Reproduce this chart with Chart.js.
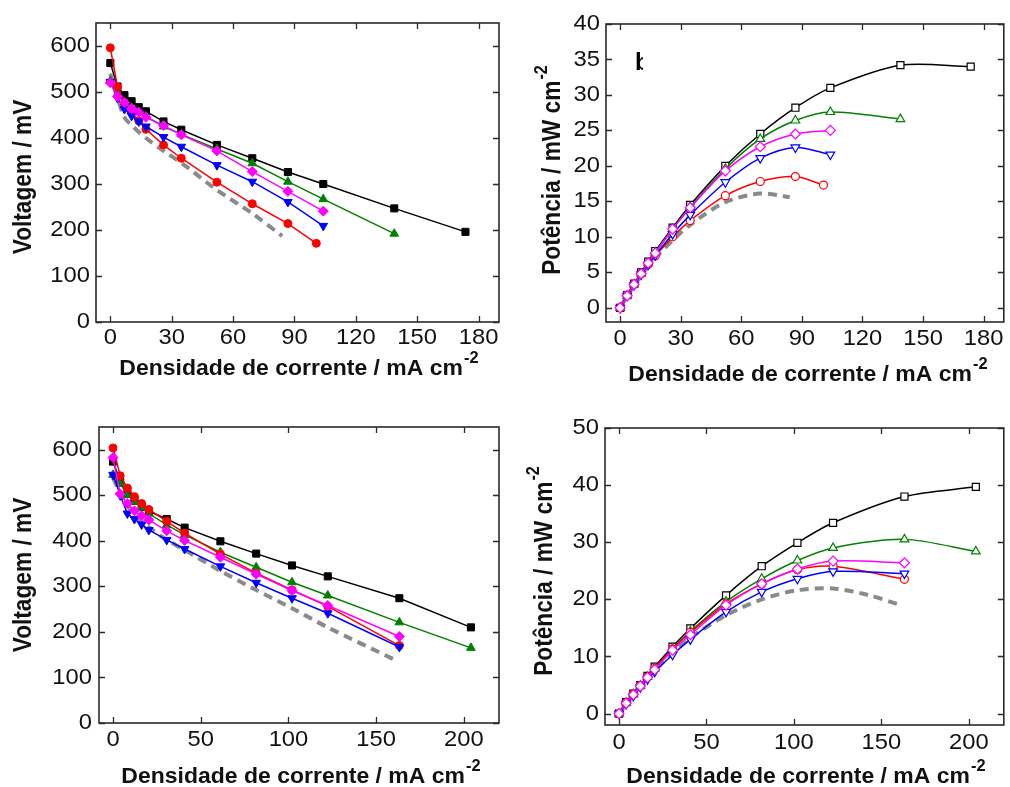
<!DOCTYPE html>
<html><head><meta charset="utf-8">
<script src="https://cdn.jsdelivr.net/npm/chart.js@4/dist/chart.umd.min.js"></script>
<style>
html,body{margin:0;padding:0;background:#fff;}
#wrap{position:relative;width:1010px;height:787px;}
canvas{position:absolute;left:0;top:0;}
</style></head><body>
<div id="wrap">
<canvas id="cA" width="1010" height="787"></canvas>
<canvas id="cB" width="1010" height="787"></canvas>
<canvas id="cC" width="1010" height="787"></canvas>
<canvas id="cD" width="1010" height="787"></canvas>
</div>
<script>
// ---------- tick labels ----------
const xTicksTop = [0, 30, 60, 90, 120, 150, 180];
const xTicksBottom = [0, 50, 100, 150, 200];
const yTicksVoltage = [0, 100, 200, 300, 400, 500, 600];
const yTicksPowerTop = [0, 5, 10, 15, 20, 25, 30, 35, 40];
const yTicksPowerBottom = [0, 10, 20, 30, 40, 50];

// ---------- top row: current density (mA cm-2) ----------
const jTop = [0, 3.5, 6.9, 10.4, 13.9, 17.4, 26.0, 34.7, 52.1, 69.4, 86.8, 104.1, 138.8, 173.6];
const jTopRed = [0, 3.5, 6.9, 10.4, 13.9, 17.4, 26.0, 34.7, 52.1, 69.4, 86.8, 100.7];
const jTopGray = [0, 3.5, 6.9, 10.4, 13.9, 17.4, 26.0, 34.7, 52.1, 69.4, 84.0];

// top-left voltages (mV)
const vTopBlack   = [563, 512, 493, 480, 467, 458, 436, 418, 385, 356, 326, 300, 247, 196];
const vTopGreen   = [524, 496, 478, 466, 456, 447, 425, 408, 376, 345, 305, 267, 192];
const vTopMagenta = [520, 490, 477, 464, 456, 445, 427, 407, 372, 327, 284, 241];
const vTopBlue    = [522, 487, 463, 448, 436, 425, 402, 381, 341, 305, 261, 209];
const vTopRed     = [596, 511, 476, 456, 437, 419, 385, 356, 304, 257, 214, 171];
const vTopGray    = [540, 488, 445, 428, 413, 400, 372, 346, 287, 236, 187];

// top-right powers (mW cm-2)
const pTopBlack   = [0, 1.8, 3.4, 5.0, 6.5, 8.0, 11.3, 14.5, 20.0, 24.5, 28.2, 31.0, 34.2, 34.0];
const pTopGreen   = [0, 1.7, 3.3, 4.8, 6.3, 7.8, 11.1, 14.2, 19.6, 23.8, 26.4, 27.6, 26.6];
const pTopMagenta = [0, 1.7, 3.3, 4.8, 6.3, 7.7, 11.1, 14.1, 19.3, 22.7, 24.5, 25.0];
const pTopBlue    = [0, 1.7, 3.2, 4.7, 6.1, 7.4, 10.4, 13.1, 17.7, 21.1, 22.6, 21.6];
const pTopRed     = [0, 1.8, 3.3, 4.8, 6.1, 7.3, 10.0, 12.3, 15.8, 17.8, 18.5, 17.3];
const pTopGray    = [0, 1.7, 3.1, 4.5, 5.8, 7.0, 9.5, 11.7, 14.9, 16.1, 15.6];

// ---------- bottom row ----------
const jBot = [0, 4.1, 8.2, 12.2, 16.3, 20.4, 30.6, 40.8, 61.2, 81.6, 102.0, 122.4, 163.2, 204.0];
const jBotGray = [0, 4.1, 8.2, 12.2, 16.3, 20.4, 30.6, 40.8, 61.2, 81.6, 102.0, 122.4, 161.6];
const jBotGrayP = [0, 8.2, 20.4, 40.8, 61.2, 81.6, 102.0, 122.4, 142.0, 160.0];

const vBotBlack   = [574, 530, 503, 488, 475, 465, 448, 429, 399, 372, 346, 322, 274, 210];
const vBotGreen   = [545, 525, 501, 486, 474, 460, 435, 413, 375, 342, 309, 280, 221, 165];
const vBotRed     = [604, 543, 516, 497, 482, 469, 443, 417, 371, 329, 292, 256, 170];
const vBotMagenta = [583, 503, 482, 466, 455, 446, 422, 401, 364, 327, 291, 258, 190];
const vBotBlue    = [545, 500, 460, 448, 436, 424, 402, 382, 344, 308, 274, 241, 167];
const vBotGray    = [538, 505, 478, 458, 443, 430, 402, 380, 334, 292, 252, 210, 137];

const pBotBlack   = [0, 2.0, 3.5, 5.0, 6.6, 8.2, 11.7, 14.9, 20.7, 25.8, 29.9, 33.4, 38.0, 39.7];
const pBotGreen   = [0, 1.9, 3.4, 4.9, 6.4, 7.9, 11.4, 14.4, 19.6, 23.6, 26.8, 29.0, 30.5, 28.4];
const pBotRed     = [0, 1.9, 3.4, 4.9, 6.4, 7.9, 11.3, 14.2, 19.2, 22.7, 25.2, 25.8, 23.5];
const pBotMagenta = [0, 1.8, 3.3, 4.8, 6.3, 7.7, 11.1, 13.8, 19.0, 22.7, 25.3, 26.7, 26.4];
const pBotBlue    = [0, 1.7, 3.1, 4.6, 6.0, 7.3, 10.3, 13.0, 17.8, 21.3, 23.6, 24.9, 24.5];
const pBotGray    = [0, 3.3, 7.6, 13.2, 17.2, 20.0, 21.6, 21.9, 20.8, 19.1];

// ---------- helpers ----------
const COL = {black:'#000000', green:'#008000', magenta:'#ff00ff', blue:'#0000ff', red:'#ff0000', gray:'#8a8a8a'};
function pts(xs, ys){ return ys.map((y,i)=>({x:xs[i], y:y})); }
function sym(xs, ys, color, style, filled, smooth, rot){
  return {
    data: pts(xs, ys), borderColor: color, borderWidth: 1.5,
    pointStyle: style, pointRadius: style==='circle'?4:5,
    pointRotation: rot||0,
    pointBackgroundColor: filled ? color : '#ffffff',
    pointBorderColor: color, pointBorderWidth: filled?1:1.2,
    tension: smooth?0.3:0, fill:false
  };
}
function dashed(xs, ys){
  return {data: pts(xs, ys), borderColor: COL.gray, borderWidth: 4, borderDash:[9,6],
    pointRadius:0, tension:0.3, fill:false};
}

function drawText(ctx, s, sup, x, y, o){
  ctx.save();
  ctx.translate(x, y);
  if (o.rot) ctx.rotate(o.rot);
  ctx.scale(o.sx||1, o.sy||1);
  ctx.fillStyle = '#111';
  ctx.textBaseline = o.baseline || 'alphabetic';
  ctx.font = o.font;
  const w1 = ctx.measureText(s).width;
  let w2 = 0;
  if (sup){ ctx.font = o.supFont; w2 = ctx.measureText(sup).width + 1; }
  let start;
  if (o.align === 'right') start = -(w1 + w2);
  else if (o.align === 'left') start = 0;
  else start = -(w1 + w2)/2;
  ctx.textAlign = 'left';
  ctx.font = o.font;
  ctx.fillText(s, start, 0);
  if (sup){ ctx.font = o.supFont; ctx.fillText(sup, start + w1 + 1, -11); }
  ctx.restore();
}

const decor = {
  id: 'decor',
  afterDatasetsDraw(chart, args, opt){
    const c = chart.ctx, a = chart.chartArea, sx = chart.scales.x, sy = chart.scales.y;
    const P = chart.options.plugins.decor;
    c.save();
    c.strokeStyle = '#2a2a2a'; c.lineWidth = 1.6;
    c.strokeRect(a.left, a.top, a.right - a.left, a.bottom - a.top);
    c.lineWidth = 1.3;
    const TL = 6;
    c.beginPath();
    P.xt.forEach(v=>{ const px = Math.round(sx.getPixelForValue(v))+0.5;
      c.moveTo(px, a.bottom); c.lineTo(px, a.bottom - TL);
      c.moveTo(px, a.top); c.lineTo(px, a.top + TL); });
    P.yt.forEach(v=>{ const py = Math.round(sy.getPixelForValue(v))+0.5;
      c.moveTo(a.left, py); c.lineTo(a.left + TL, py);
      c.moveTo(a.right, py); c.lineTo(a.right - TL, py); });
    c.stroke();
    c.restore();
    const tickFont = '22px "Liberation Sans", Arial, sans-serif';
    P.xt.forEach(v=> drawText(c, String(v), '', sx.getPixelForValue(v), P.xLabY, {font:tickFont, sx:1.08}));
    P.yt.forEach(v=> drawText(c, String(v), '', P.yLabX, sy.getPixelForValue(v), {font:tickFont, sx:1.08, align:'right', baseline:'middle'}));
    const tf = 'bold 21px "Liberation Sans", Arial, sans-serif';
    const sf = 'bold 15px "Liberation Sans", Arial, sans-serif';
    drawText(c, P.xTitle, P.xSup, P.xTitleX, P.xTitleY, {font:tf, supFont:sf, sx:1.095, sy:1.05});
    drawText(c, P.yTitle, P.ySup, P.yTitleX, P.yTitleY, {font:tf, supFont:sf, sx:1.08, sy:1.2, rot:-Math.PI/2});
    if (P.tag){
      c.save();
      c.beginPath(); c.rect(P.tag.x - 1, P.tag.y - 25, 9, 30); c.clip();
      c.fillStyle = '#000'; c.font = 'bold 24px "Liberation Sans", Arial, sans-serif';
      c.textAlign = 'left'; c.textBaseline = 'alphabetic';
      c.fillText(P.tag.t, P.tag.x, P.tag.y);
      c.restore();
    }
  }
};

function make(id, frame, xr, yr, datasets, deco){
  new Chart(document.getElementById(id), {
    type: 'line',
    data: { datasets: datasets },
    options: {
      responsive: false, animation: false, devicePixelRatio: 1,
      layout: { padding: { left: frame.l, top: frame.t, right: 1010 - frame.r, bottom: 787 - frame.b } },
      scales: {
        x: { type: 'linear', min: xr[0], max: xr[1], display: false },
        y: { type: 'linear', min: yr[0], max: yr[1], display: false }
      },
      plugins: { legend: { display: false }, tooltip: { enabled: false }, decor: deco }
    },
    plugins: [decor]
  });
}

const XT = 'Densidade de corrente / mA cm';

// panel a: top-left
make('cA', {l:96, t:23, r:499, b:322}, [-7, 190], [0, 650], [
  sym(jTop, vTopMagenta, COL.magenta, 'rectRot', true, false),
  sym(jTop, vTopBlue, COL.blue, 'triangle', true, false, 180),
  sym(jTopRed, vTopRed, COL.red, 'circle', true, false),
  sym(jTop, vTopGreen, COL.green, 'triangle', true, false),
  sym(jTop, vTopBlack, COL.black, 'rect', true, false),
  dashed(jTopGray, vTopGray)
], {xt:xTicksTop, yt:yTicksVoltage, xLabY:344, yLabX:90, xTitle:XT, xSup:'-2', xTitleX:299, xTitleY:375,
    yTitle:'Voltagem / mV', ySup:'', yTitleX:31, yTitleY:177});

// panel b: top-right
make('cB', {l:606, t:24, r:1008, b:322}, [-7, 190], [-2, 40], [
  sym(jTop, pTopMagenta, COL.magenta, 'rectRot', false, true),
  sym(jTop, pTopBlue, COL.blue, 'triangle', false, true, 180),
  sym(jTopRed, pTopRed, COL.red, 'circle', false, true),
  sym(jTop, pTopGreen, COL.green, 'triangle', false, true),
  sym(jTop, pTopBlack, COL.black, 'rect', false, true),
  dashed(jTopGray, pTopGray)
], {xt:xTicksTop, yt:yTicksPowerTop, xLabY:345, yLabX:600, xTitle:XT, xSup:'-2', xTitleX:808, xTitleY:381,
    yTitle:'Potência / mW cm', ySup:'-2', yTitleX:560, yTitleY:170, tag:{t:'b', x:635, y:70}});

// panel c: bottom-left
make('cC', {l:99, t:427, r:499, b:723}, [-8, 220], [0, 650], [
  sym(jBot, vBotMagenta, COL.magenta, 'rectRot', true, false),
  sym(jBot, vBotBlue, COL.blue, 'triangle', true, false, 180),
  sym(jBot, vBotRed, COL.red, 'circle', true, false),
  sym(jBot, vBotGreen, COL.green, 'triangle', true, false),
  sym(jBot, vBotBlack, COL.black, 'rect', true, false),
  dashed(jBotGray, vBotGray)
], {xt:xTicksBottom, yt:yTicksVoltage, xLabY:746, yLabX:92, xTitle:XT, xSup:'-2', xTitleX:301, xTitleY:783,
    yTitle:'Voltagem / mV', ySup:'', yTitleX:31, yTitleY:575});

// panel d: bottom-right
make('cD', {l:605, t:428, r:1007, b:725}, [-8, 220], [-2, 50], [
  sym(jBot, pBotMagenta, COL.magenta, 'rectRot', false, true),
  sym(jBot, pBotBlue, COL.blue, 'triangle', false, true, 180),
  sym(jBot, pBotRed, COL.red, 'circle', false, true),
  sym(jBot, pBotGreen, COL.green, 'triangle', false, true),
  sym(jBot, pBotBlack, COL.black, 'rect', false, true),
  dashed(jBotGrayP, pBotGray)
], {xt:xTicksBottom, yt:yTicksPowerBottom, xLabY:749, yLabX:599, xTitle:XT, xSup:'-2', xTitleX:806, xTitleY:783,
    yTitle:'Potência / mW cm', ySup:'-2', yTitleX:552, yTitleY:571});
</script>
</body></html>
